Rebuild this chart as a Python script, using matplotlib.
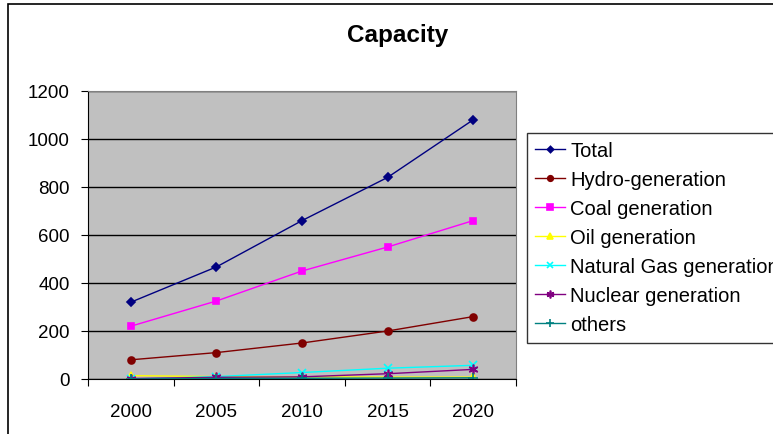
import matplotlib.pyplot as plt
import matplotlib
from matplotlib.patches import Rectangle

matplotlib.rcParams['font.family'] = ['Liberation Sans', 'DejaVu Sans']

years = ['2000', '2005', '2010', '2015', '2020']
total = [320, 467, 660, 840, 1080]
hydro = [80, 110, 150, 200, 260]
coal = [220, 325, 450, 550, 660]
oil = [14, 10, 9, 8, 8]
gas = [0, 10, 27, 45, 57]
nuclear = [2, 7, 9, 22, 40]
others = [0, 2, 3, 4, 5]

series = [
    ("Total", total, '#000080', 'D', 4),
    ("Hydro-generation", hydro, '#800000', 'o', 5),
    ("Coal generation", coal, '#FF00FF', 's', 5),
    ("Oil generation", oil, '#FFFF00', '^', 6),
    ("Natural Gas generation", gas, '#00FFFF', 'x', 6),
    ("Nuclear generation", nuclear, '#800080', (6, 2, 0), 7),
    ("others", others, '#008080', '+', 7),
]

fig = plt.figure(figsize=(7.73, 4.35), dpi=100)
# outer chart border (cropped on right and bottom)
fig.patches.append(Rectangle((8 / 773, -0.1), 1.2, (435 - 5) / 435 + 0.1,
                             transform=fig.transFigure, fill=False,
                             edgecolor='black', linewidth=1.2))

ax = fig.add_axes([88 / 773, 55 / 435, 428 / 773, 288 / 435])
ax.set_facecolor('#C0C0C0')

x = range(len(years))
for name, vals, col, mk, ms in series:
    ax.plot(x, vals, color=col, marker=mk, markersize=ms, linewidth=1,
            markeredgewidth=1.2, label=name)

ax.set_xlim(-0.5, 4.5)
ax.set_ylim(0, 1200)
ax.set_yticks(range(0, 1201, 200))
ax.yaxis.grid(True, color='black', linewidth=1)
ax.set_axisbelow(True)
ax.set_xticks([i - 0.5 for i in range(6)])
ax.set_xticklabels([])
ax.set_xticks(list(x), minor=True)
ax.set_xticklabels(years, minor=True)
ax.tick_params(axis='x', which='minor', length=0, labelsize=13.5, pad=17)
ax.tick_params(axis='x', which='major', length=5, direction='out')
ax.tick_params(axis='y', labelsize=13.5, length=5, direction='out', pad=8)
ax.spines['top'].set_color('#808080')
ax.spines['right'].set_color('#808080')

fig.text(398 / 773, 1 - 36 / 435, "Capacity", ha='center', va='center',
         fontsize=17.5, fontweight='bold')

# legend runs past the right edge, as in the original
leg = fig.legend(loc='upper left', bbox_to_anchor=(527 / 773, 1 - 134 / 435),
                 fontsize=14.5, frameon=True, fancybox=False, edgecolor='black',
                 handlelength=1.5, handletextpad=0.25, labelspacing=0.5,
                 borderpad=0.4, borderaxespad=0, markerscale=0.8)
leg.get_frame().set_linewidth(1)

plt.savefig('out.png', dpi=100)
